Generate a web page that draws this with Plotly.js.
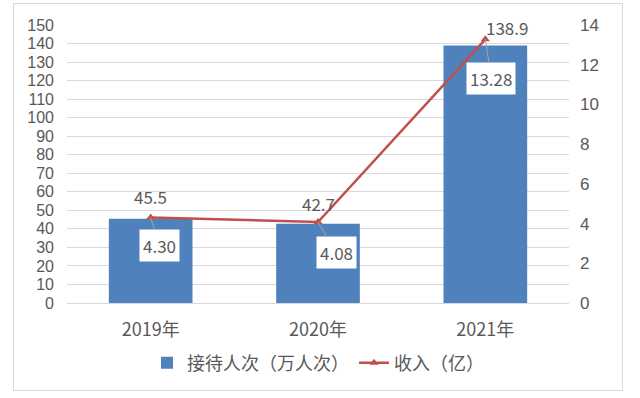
<!DOCTYPE html>
<html><head><meta charset="utf-8">
<script src="https://cdn.plot.ly/plotly-3.0.1.min.js"></script>
<style>html,body{margin:0;padding:0;background:#fff;}#wrap{position:relative;width:640px;height:398px;}#chart{width:640px;height:398px;}#frame{position:absolute;left:13px;top:3px;width:608px;height:386px;border:1px solid #D9D9D9;pointer-events:none;}</style>
</head><body>
<div id="wrap"><div id="chart"></div><div id="frame"></div></div>
<script>
const categories = ['2019年', '2020年', '2021年'];
const visitors = [45.5, 42.7, 138.9];
const income = [4.30, 4.08, 13.28];
const visitorLabels = ['45.5', '42.7', '138.9'];
const incomeLabels = ['4.30', '4.08', '13.28'];
const seriesNames = ['接待人次（万人次）', '收入（亿）'];

const font = 'Noto Sans CJK SC, Noto Sans, sans-serif';
const numFont = 'Liberation Sans, Arial, sans-serif';
const grey = '#595959';

const traces = [
  {type: 'bar', x: categories, y: visitors, name: seriesNames[0], marker: {color: '#4F81BD'}, width: 0.5, yaxis: 'y', hoverinfo: 'none'},
  {type: 'scatter', mode: 'lines+markers', x: categories, y: income, name: seriesNames[1], yaxis: 'y2',
   line: {color: '#C0504D', width: 2.5}, marker: {symbol: 'triangle-up', size: 8, color: '#C0504D'}, hoverinfo: 'none'}
];

const barOff = [[0, 22], [0, 20], [22, 18]];
const lineOff = [[9, 28], [18, 31], [6, 39]];
const annotations = [];
categories.forEach((c, i) => {
  annotations.push({x: c, y: visitors[i], xref: 'x', yref: 'y', text: visitorLabels[i], showarrow: false,
    xshift: barOff[i][0], yshift: barOff[i][1], font: {family: font, size: 17, color: grey}});
  annotations.push({x: c, y: income[i], xref: 'x', yref: 'y2', text: incomeLabels[i], showarrow: true,
    ax: lineOff[i][0], ay: lineOff[i][1], arrowhead: 0, arrowwidth: 1, arrowcolor: '#A6A6A6',
    bgcolor: '#FFFFFF', borderpad: 3, font: {family: font, size: 17, color: grey}});
});

const layout = {
  width: 640, height: 398,
  margin: {l: 67, r: 71, t: 25, b: 95},
  paper_bgcolor: '#fff', plot_bgcolor: '#fff',
  font: {family: font, color: grey},
  showlegend: true,
  legend: {orientation: 'h', x: 0.5, xanchor: 'center', y: -0.216, yanchor: 'middle', font: {family: font, size: 18, color: grey}},
  bargap: 0.5,
  xaxis: {type: 'category', tickfont: {family: font, size: 18, color: grey}, showline: true, linecolor: '#D9D9D9', ticks: '', showgrid: false, ticklabelstandoff: 10},
  yaxis: {range: [0, 150], dtick: 10, tickfont: {family: numFont, size: 16, color: grey}, gridcolor: '#D9D9D9', zeroline: false, ticks: '', ticklabelstandoff: 12, fixedrange: true},
  yaxis2: {range: [0, 14], dtick: 2, overlaying: 'y', side: 'right', showgrid: false, zeroline: false, tickfont: {family: numFont, size: 17, color: grey}, ticks: '', ticklabelstandoff: 10},
  annotations: annotations
};

Plotly.newPlot('chart', traces, layout, {staticPlot: true});
</script>
</body></html>
